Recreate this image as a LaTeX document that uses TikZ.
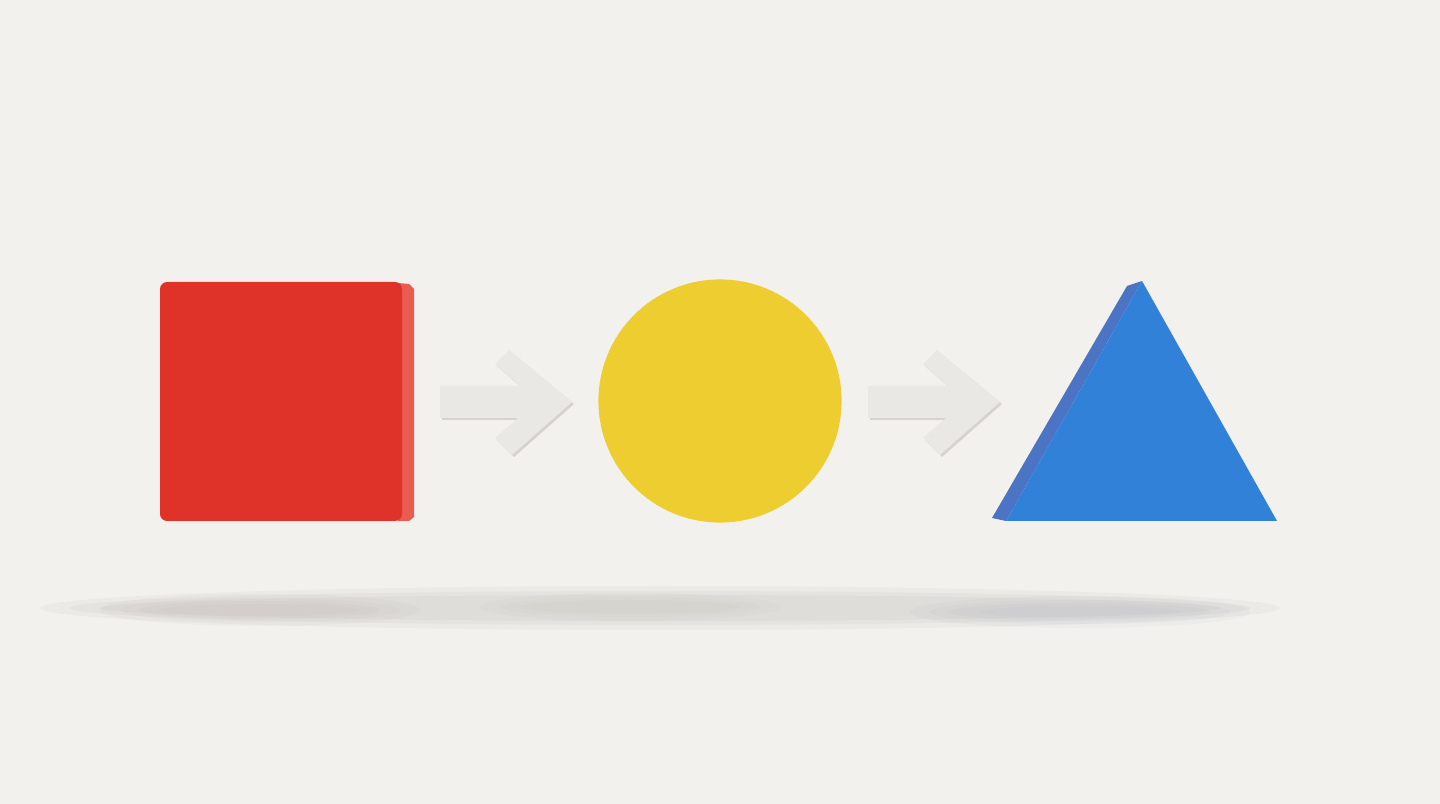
\documentclass[tikz,border=0pt]{standalone}
\usetikzlibrary{arrows.meta}

\definecolor{paper}{HTML}{F2F1EE}
\definecolor{cubered}{HTML}{DF3228}
\definecolor{cubeside}{HTML}{EA5B50}
\definecolor{discyellow}{HTML}{EDCD30}
\definecolor{triblue}{HTML}{3281D9}
\definecolor{triside}{HTML}{4B74C4}
\definecolor{arrowface}{HTML}{E9E8E5}
\definecolor{arrowedge}{HTML}{D6D2CE}
\definecolor{redshadow}{HTML}{B49C9C}
\definecolor{yellowshadow}{HTML}{B4AC9C}
\definecolor{blueshadow}{HTML}{9C9CB0}

\tikzset{
    arrowbody/.style={fill=arrowface},
    arrowrim/.style={fill=arrowedge},
    blur/.style={opacity=0.06}
}

\newcommand{\arrowpath}{(440,386) -- (520,386) -- (495,364) -- (509,350) -- (572,402) -- (512,455) -- (495,438) -- (518,418) -- (440,418) -- cycle}

\begin{document}
\begin{tikzpicture}[x=0.01cm, y=-0.01cm]
        \fill[paper] (0,0) rectangle (1440,804);
        \useasboundingbox (0,0) rectangle (1440,804);

        % soft shadow on the floor
        \foreach \r/\h in {620/22, 590/17, 560/13}
            \fill[blur, gray] (660,608) ellipse [x radius=\r*0.01cm, y radius=\h*0.01cm];
        \foreach \r/\h in {160/16, 140/12, 120/9, 100/6}
            \fill[blur, redshadow] (260,610) ellipse [x radius=\r*0.01cm, y radius=\h*0.01cm];
        \foreach \r/\h in {150/14, 130/10, 110/7}
            \fill[blur, yellowshadow] (630,607) ellipse [x radius=\r*0.01cm, y radius=\h*0.01cm];
        \foreach \r/\h in {170/16, 150/12, 130/9, 100/6}
            \fill[blur, blueshadow] (1080,612) ellipse [x radius=\r*0.01cm, y radius=\h*0.01cm];

        % red square
        \fill[cubeside] (398,283) -- (409,284) -- (414,289) -- (414,517) -- (409,521) -- (398,521) -- cycle;
        \fill[cubered, rounded corners=2pt] (160,282) rectangle (402,521);
        \node (square) at (281,401) {};

        % yellow disc
        \fill[discyellow] (720,401) circle [radius=1.215cm];
        \node (disc) at (720,401) {};

        % blue triangle
        \fill[triside] (1127,286) -- (1142,281) -- (1006,521) -- (992,518) -- cycle;
        \fill[triblue] (1142,281) -- (1277,521) -- (1006,521) -- cycle;
        \node (tri) at (1140,440) {};

        % arrows between the shapes
        \begin{scope}[shift={(2,2)}]
            \fill[arrowrim] \arrowpath;
        \end{scope}
        \fill[arrowbody] \arrowpath;
        \begin{scope}[shift={(430,2)}]
            \fill[arrowrim] \arrowpath;
        \end{scope}
        \begin{scope}[shift={(428,0)}]
            \fill[arrowbody] \arrowpath;
        \end{scope}
    \end{tikzpicture}
\end{document}
